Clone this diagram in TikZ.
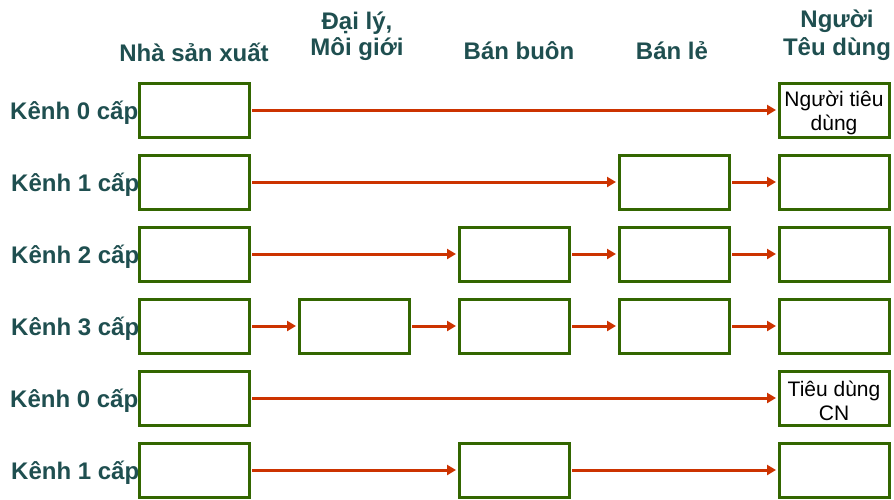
\documentclass[tikz,border=0pt]{standalone}
\usepackage{fontspec}
\setmainfont{Liberation Sans}
\usetikzlibrary{arrows.meta}
\definecolor{boxgreen}{HTML}{336600}
\definecolor{arrred}{HTML}{CC3300}
\definecolor{headteal}{HTML}{1F4F50}
\begin{document}
\begin{tikzpicture}[x=1pt,y=-1pt,
  box/.style={draw=boxgreen, line width=3pt, minimum width=110pt, minimum height=54pt, inner sep=0pt},
  boxtext/.style={align=center, inner sep=0pt, font=\fontsize{21}{23.5}\selectfont},
  head/.style={text=headteal, font=\bfseries\fontsize{24}{26}\selectfont, anchor=base, inner sep=0pt},
  rowlab/.style={head, anchor=base west},
  link/.style={draw=arrred, line width=3pt, shorten >=1.5pt, shorten <=1.5pt, -{Triangle[length=9pt,width=10pt]}}]
\useasboundingbox (0,0) rectangle (894,499);
% headers
\node[head] (h1) at (194,61) {Nhà sản xuất};
\node[head] (h2a) at (357,29) {Đại lý,};
\node[head] (h2b) at (357,55) {Môi giới};
\node[head] (h3) at (519,59) {Bán buôn};
\node[head] (h4) at (672,59) {Bán lẻ};
\node[head] (h5a) at (837,27) {Người};
\node[head] (h5b) at (837,55) {Têu dùng};
% row labels
\node[rowlab] (l1) at (10,119) {Kênh 0 cấp};
\node[rowlab] (l2) at (11,191) {Kênh 1 cấp};
\node[rowlab] (l3) at (11,263) {Kênh 2 cấp};
\node[rowlab] (l4) at (11,335) {Kênh 3 cấp};
\node[rowlab] (l5) at (10,407) {Kênh 0 cấp};
\node[rowlab] (l6) at (11,479) {Kênh 1 cấp};
% row 1
\node[box] (a1) at (194,110) {};
\node[box] (e1) at (834,110) {};
\node[boxtext] (e1t) at (834,113) {Người tiêu\\dùng};
\draw[link] (a1) -- (e1);
% row 2
\node[box] (a2) at (194,182) {};
\node[box] (d2) at (674,182) {};
\node[box] (e2) at (834,182) {};
\draw[link] (a2) -- (d2);
\draw[link] (d2) -- (e2);
% row 3
\node[box] (a3) at (194,254) {};
\node[box] (c3) at (514,254) {};
\node[box] (d3) at (674,254) {};
\node[box] (e3) at (834,254) {};
\draw[link] (a3) -- (c3);
\draw[link] (c3) -- (d3);
\draw[link] (d3) -- (e3);
% row 4
\node[box] (a4) at (194,326) {};
\node[box] (b4) at (354,326) {};
\node[box] (c4) at (514,326) {};
\node[box] (d4) at (674,326) {};
\node[box] (e4) at (834,326) {};
\draw[link] (a4) -- (b4);
\draw[link] (b4) -- (c4);
\draw[link] (c4) -- (d4);
\draw[link] (d4) -- (e4);
% row 5
\node[box] (a5) at (194,398) {};
\node[box] (e5) at (834,398) {};
\node[boxtext] (e5t) at (834,401) {Tiêu dùng\\CN};
\draw[link] (a5) -- (e5);
% row 6
\node[box] (a6) at (194,470) {};
\node[box] (c6) at (514,470) {};
\node[box] (e6) at (834,470) {};
\draw[link] (a6) -- (c6);
\draw[link] (c6) -- (e6);
\end{tikzpicture}
\end{document}
